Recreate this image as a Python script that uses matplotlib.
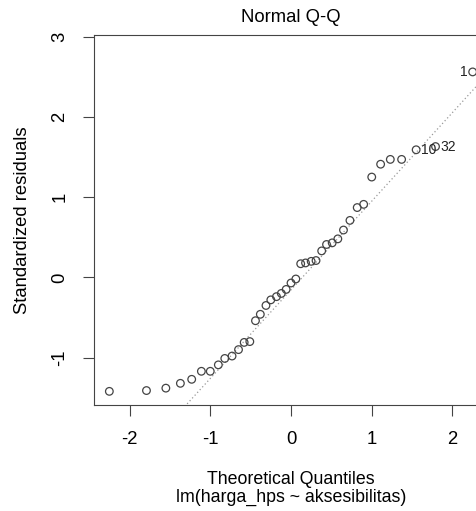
import numpy as np
import matplotlib
matplotlib.use("Agg")
import matplotlib.pyplot as plt

plt.rcParams['font.family'] = ['Liberation Sans', 'DejaVu Sans']

# theoretical quantiles (n = 41) and standardized residuals
theo_q = [-2.25, -1.79, -1.55, -1.37, -1.23, -1.11, -1.00, -0.90, -0.82, -0.73,
          -0.65, -0.58, -0.51, -0.44, -0.38, -0.31, -0.25, -0.18, -0.12, -0.06,
          0.00, 0.06, 0.12, 0.18, 0.25, 0.31, 0.38, 0.44, 0.51, 0.58,
          0.65, 0.73, 0.82, 0.90, 1.00, 1.11, 1.23, 1.37, 1.55, 1.79, 2.25]
std_resid = [-1.42, -1.41, -1.38, -1.32, -1.27, -1.17, -1.17, -1.09, -1.01, -0.98,
             -0.90, -0.81, -0.80, -0.54, -0.46, -0.35, -0.28, -0.24, -0.20, -0.15,
             -0.07, -0.02, 0.17, 0.18, 0.20, 0.21, 0.33, 0.41, 0.43, 0.48,
             0.59, 0.71, 0.87, 0.91, 1.25, 1.41, 1.47, 1.47, 1.59, 1.63, 2.56]
# labelled points: (index, label, side)
id_points = [(40, "1", "left"), (38, "10", "right"), (39, "32", "right")]

W, H = 477, 511
fig = plt.figure(figsize=(W / 100, H / 100), dpi=100)
ax = fig.add_axes([94 / W, 1 - 405 / H, (488 - 94) / W, (405 - 35) / H])

# qq reference line through the quartiles
y25, y75 = np.quantile(std_resid, [0.25, 0.75])
slope = (y75 - y25) / (2 * 0.6745)
inter = y25 + slope * 0.6745
xs = np.array([-3, 3])
ax.plot(xs, inter + slope * xs, linestyle=(0, (1, 2)), color="#999999", lw=0.9)

ax.scatter(theo_q, std_resid, s=30, facecolors="none", edgecolors="#444444", linewidths=0.9, zorder=3)

for i, lab, side in id_points:
    dx = -3.5 if side == "left" else 3.5
    ax.annotate(lab, (theo_q[i], std_resid[i]), xytext=(dx, 0), textcoords="offset points",
                ha="right" if side == "left" else "left", va="center", fontsize=10, color="#222222")

ax.set_xlim(-2.44, 2.44)
ax.set_ylim(-1.59, 3.02)
ax.set_xticks([-2, -1, 0, 1, 2])
ax.set_yticks([-1, 0, 1, 2, 3])
ax.set_xticklabels(["-2", "-1", "0", "1", "2"])
ax.set_yticklabels(["-1", "0", "1", "2", "3"], rotation=90, va="center")
ax.tick_params(length=8, width=0.8, color="#444444", labelsize=13.3, pad=10.5)
for sp in ax.spines.values():
    sp.set_color("#444444")
    sp.set_linewidth(0.8)

fig.text(291 / W, 1 - 18 / H, "Normal Q-Q", ha="center", va="center", fontsize=13.3)
fig.text(291 / W, 1 - 479 / H, "Theoretical Quantiles", ha="center", va="center", fontsize=12.8)
fig.text(291 / W, 1 - 497 / H, "lm(harga_hps ~ aksesibilitas)", ha="center", va="center", fontsize=12.8)
fig.text(23 / W, 1 - 220 / H, "Standardized residuals", ha="center", va="center", rotation=90, fontsize=13.3)

fig.savefig("out.png", dpi=100)
